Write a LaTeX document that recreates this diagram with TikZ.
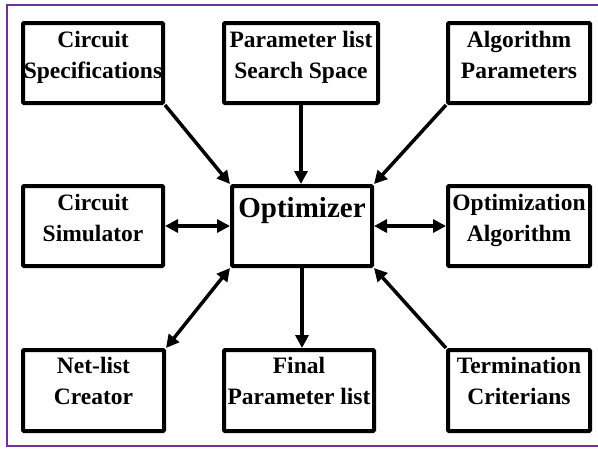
\documentclass[tikz,border=0pt]{standalone}
\usepackage{fontspec}
\setmainfont{Liberation Serif}
\usetikzlibrary{arrows.meta}
\definecolor{framepurple}{RGB}{112,48,160}
\tikzset{
  box/.style={draw=black, line width=4pt, rounded corners=1pt, minimum height=80pt, inner sep=0pt},
  lbl/.style={font=\fontsize{23.5pt}{31pt}\selectfont\bfseries, align=center, inner sep=0pt, anchor=base},
  big/.style={font=\fontsize{29pt}{34pt}\selectfont\bfseries, inner sep=0pt, anchor=base},
  conn/.style={line width=3.5pt, -{Triangle[length=13pt,width=13pt]}},
  bconn/.style={line width=3.5pt, {Triangle[length=13pt,width=13pt]}-{Triangle[length=13pt,width=13pt]}}
}
\begin{document}
\begin{tikzpicture}[x=1pt,y=-1pt]
\useasboundingbox (0,0) rectangle (598,448);
\begin{scope}
\clip (0,0) rectangle (598,448);
\draw[framepurple, line width=2pt] (7,5) rectangle (610,446);
\end{scope}
% boxes
\node[box, minimum width=140pt] (cs) at (93,63) {};
\node[box, minimum width=154pt] (pl) at (301,63) {};
\node[box, minimum width=142pt] (ap) at (519,63) {};
\node[box, minimum width=140pt] (sim) at (93,226) {};
\node[box, minimum width=140pt] (opt) at (302,226) {};
\node[box, minimum width=142pt] (oa) at (519,226) {};
\node[box, minimum width=141pt, minimum height=81pt] (nl) at (93.5,390.5) {};
\node[box, minimum width=150pt, minimum height=81pt] (fp) at (299,390.5) {};
\node[box, minimum width=142pt, minimum height=81pt] (tc) at (519,390.5) {};
% texts (anchor = baseline of the last line)
\node[lbl] (tcs) at (93,78) {Circuit\\Specifications};
\node[lbl] (tpl) at (301,78) {Parameter list\\Search Space};
\node[lbl] (tap) at (519,78) {Algorithm\\Parameters};
\node[lbl] (tsim) at (93,241) {Circuit\\Simulator};
\node[big] (topt) at (302,217) {Optimizer};
\node[lbl] (toa) at (519,241) {Optimization\\Algorithm};
\node[lbl] (tnl) at (93.5,404) {Net-list\\Creator};
\node[lbl] (tfp) at (299,404) {Final\\Parameter list};
\node[lbl] (ttc) at (519,404) {Termination\\Criterians};
% connectors
\draw[conn] (cs.south east) -- (opt.north west);
\draw[conn] (pl.south) -- (pl.south |- opt.north);
\draw[conn] (ap.south west) -- (opt.north east);
\draw[bconn] (sim.east) -- (opt.west);
\draw[bconn] (opt.east) -- (oa.west);
\draw[bconn] (opt.south west) -- (nl.north east);
\draw[conn] (opt.south) -- (opt.south |- fp.north);
\draw[conn] (tc.north west) -- (opt.south east);
\end{tikzpicture}
\end{document}
